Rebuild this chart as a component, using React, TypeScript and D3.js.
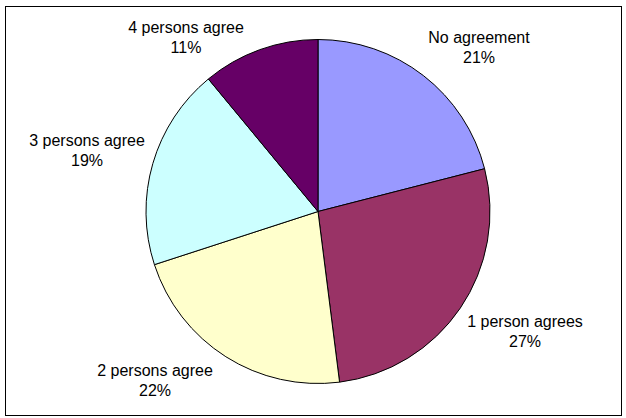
import React from "react";
import * as d3 from "d3";

const categories = ["No agreement", "1 person agrees", "2 persons agree", "3 persons agree", "4 persons agree"];
const values = [21, 27, 22, 19, 11];
const colors = ["#9999FF", "#993366", "#FFFFCC", "#CCFFFF", "#660066"];
// label anchor centres (layout only)
const labelPos: [number, number][] = [
  [479, 43],
  [525, 327],
  [155, 376],
  [87, 146],
  [186, 33],
];

const W = 626;
const H = 418;
const cx = 318;
const cy = 211.5;
const R = 172;

export default function App() {
  const total = d3.sum(values);
  const pie = d3.pie<number>().sort(null).value((d) => d);
  const arcs = pie(values);
  const arc = d3.arc<d3.PieArcDatum<number>>().innerRadius(0).outerRadius(R);
  const fmt = (v: number) => `${Math.round((v / total) * 100)}%`;
  return (
    <svg
      width={W}
      height={H}
      style={{ position: "absolute", left: 0, top: 0, background: "#fff" }}
      fontFamily="'Liberation Sans', Arial, sans-serif"
    >
      <rect x={5.5} y={6.5} width={616} height={409} fill="#fff" stroke="#000" strokeWidth={1} />
      <g transform={`translate(${cx},${cy})`}>
        {arcs.map((a, i) => (
          <path key={i} d={arc(a) || ""} fill={colors[i]} stroke="#000" strokeWidth={1} />
        ))}
      </g>
      {arcs.map((a, i) => (
        <text key={i} x={labelPos[i][0]} y={labelPos[i][1]} textAnchor="middle" fontSize={16} fill="#000">
          <tspan x={labelPos[i][0]}>{categories[i]}</tspan>
          <tspan x={labelPos[i][0]} dy={19.5}>{fmt(a.data)}</tspan>
        </text>
      ))}
    </svg>
  );
}
